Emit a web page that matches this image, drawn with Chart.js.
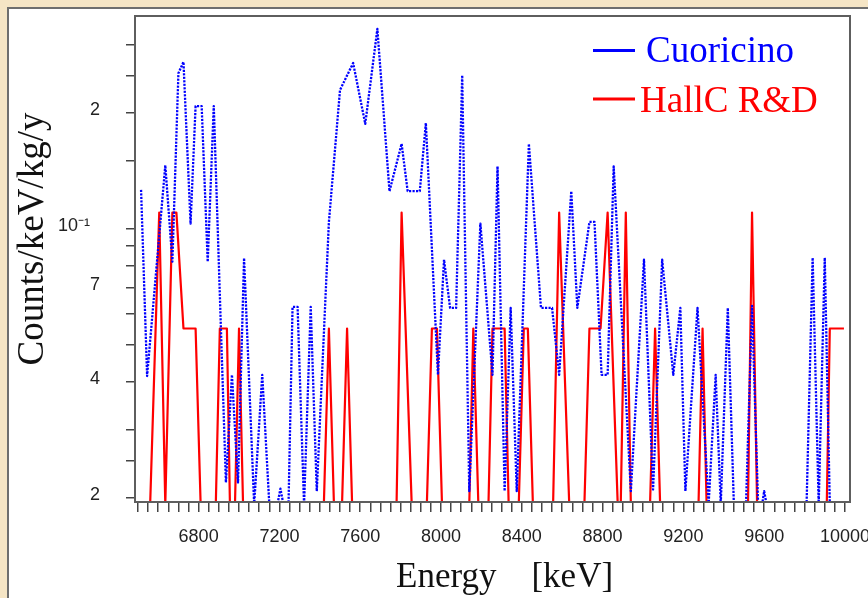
<!DOCTYPE html>
<html>
<head>
<meta charset="utf-8">
<script src="https://cdn.jsdelivr.net/npm/chart.js@4/dist/chart.umd.min.js"></script>
<style>
html,body{margin:0;padding:0;background:#f5e5c5;overflow:hidden}
canvas{display:block}
</style>
</head>
<body>
<canvas id="c" width="868" height="598"></canvas>
<script>
// ---------- data ----------
const seriesNames = ['Cuoricino', 'HallC R&D'];
const xTitle = 'Energy    [keV]';
const yTitle = 'Counts/keV/kg/y';

// Cuoricino (blue, dotted) vertices: energy [keV] and rate [counts/keV/kg/y]; 0 = empty bin
const cuoricinoEnergy = [6515,6545,6635,6670,6700,6725,6760,6785,6815,6845,
  6875,6935,6965,6995,7025,7075,7115,7150,7190,7205,
  7220,7245,7265,7290,7322,7355,7385,7445,7500,7565,
  7625,7685,7745,7805,7835,7895,7925,7985,8015,8045,
  8075,8105,8140,8195,8255,8280,8315,8345,8375,8435,
  8495,8550,8585,8645,8675,8735,8760,8795,8825,8855,
  8940,9005,9050,9095,9150,9185,9210,9270,9325,9360,
  9385,9420,9450,9510,9540,9570,9590,9600,9612,9810,
  9840,9870,9900,9925,10000];
const cuoricinoRate = [0.126,0.0414,0.146,0.082,0.253,0.271,0.103,0.208,0.208,0.082,
  0.208,0.0219,0.0417,0.0219,0.0838,0,0.0417,0,0,0.0211,
  0,0,0.0626,0.0626,0,0.0626,0.0208,0.104,0.229,0.269,
  0.187,0.33,0.125,0.166,0.125,0.125,0.188,0.0417,0.083,0.0622,
  0.0622,0.25,0.0208,0.103,0.0417,0.145,0.0208,0.0622,0.0208,0.166,
  0.0622,0.0622,0.0417,0.125,0.0622,0.104,0.104,0.0417,0.0417,0.145,
  0.0208,0.083,0.021,0.083,0.0417,0.0622,0.0208,0.0622,0,0.0417,
  0,0.0622,0,0,0.063,0,0,0.0208,0,0,
  0.084,0,0.084,0,0];

// HallC R&D (red, solid) vertices
const hallcEnergy = [6520,6560,6605,6635,6670,6690,6725,6785,6810,6885,
  6905,6940,6955,6980,7000,7020,7420,7445,7470,7510,
  7535,7560,7780,7805,7855,7930,7955,7980,8005,8140,
  8160,8185,8235,8255,8315,8335,8385,8410,8430,8455,
  8555,8585,8635,8710,8735,8790,8825,8875,8890,8915,
  8940,9035,9060,9085,9275,9295,9315,9520,9540,9565,
  9910,9925,9995];
const hallcRate = [0,0,0.11,0,0.11,0.11,0.055,0.055,0,0,
  0.055,0.055,0,0,0.055,0,0,0.055,0,0,
  0.055,0,0,0.11,0,0,0.055,0.055,0,0,
  0.055,0,0,0.055,0.055,0,0,0.055,0.055,0,
  0,0.11,0,0,0.055,0.055,0.11,0,0,0.11,
  0,0,0.055,0,0,0.055,0,0,0.11,0,
  0,0.055,0.055];

// axis ticks
const xTickLabels = ['6800','7200','7600','8000','8400','8800','9200','9600','10000'];
const xMinorStep = 50, xFirstTick = 6500, xLastTick = 10000;
const yTickValues = [0.02,0.025,0.03,0.04,0.05,0.06,0.07,0.08,0.09,0.1,0.15,0.2,0.25,0.3];
const yTickLabels = ['2','','','4','','','7','','','10\u207B\u00B9  ','','2','',''];

const X_MIN = 6485, X_MAX = 10025;
const Y_MIN = 0.01949, Y_MAX = 0.3564;
const EMPTY_BIN = 0.0192; // empty bins drawn just under the lower axis edge

// ---------- build ----------
const xTickValues = [];
for (let v = xFirstTick; v <= xLastTick; v += xMinorStep) xTickValues.push(v);
const toPoints = (E, R) => E.map((e, i) => ({ x: e, y: R[i] > 0 ? R[i] : EMPTY_BIN }));

const decor = {
  id: 'decor',
  beforeDraw(chart) {
    const ctx = chart.ctx;
    ctx.save();
    ctx.fillStyle = '#f5e5c5';
    ctx.fillRect(0, 0, chart.width, chart.height);
    ctx.fillStyle = '#ffffff';
    ctx.fillRect(8, 8, chart.width - 8, chart.height - 8);
    ctx.strokeStyle = '#6e6e6e';
    ctx.lineWidth = 2;
    ctx.beginPath();
    ctx.moveTo(8, chart.height); ctx.lineTo(8, 8); ctx.lineTo(chart.width, 8);
    ctx.stroke();
    ctx.restore();
  },
  afterDraw(chart) {
    const { ctx, chartArea: a } = chart;
    ctx.save();
    ctx.strokeStyle = '#5e5e5e';
    ctx.lineWidth = 2;
    ctx.strokeRect(a.left, a.top, a.right - a.left, a.bottom - a.top);
    ctx.fillStyle = '#111';
    ctx.textBaseline = 'alphabetic';
    ctx.textAlign = 'left';
    ctx.font = '35px "Liberation Serif", "Times New Roman", serif';
    ctx.fillText(xTitle, 396, 587);
    ctx.save();
    ctx.translate(43, 239);
    ctx.rotate(-Math.PI / 2);
    ctx.textAlign = 'center';
    ctx.font = '37px "Liberation Serif", "Times New Roman", serif';
    ctx.fillText(yTitle, 0, 0);
    ctx.restore();
    // legend
    const ly = [50.5, 99], tx = [646, 640], ty = [62, 112];
    chart.data.datasets.forEach((ds, i) => {
      ctx.strokeStyle = ds.borderColor;
      ctx.lineWidth = 3;
      ctx.setLineDash([]);
      ctx.beginPath();
      ctx.moveTo(593, ly[i]); ctx.lineTo(635, ly[i]);
      ctx.stroke();
      ctx.fillStyle = ds.borderColor;
      ctx.textAlign = 'left';
      ctx.font = '37px "Liberation Serif", "Times New Roman", serif';
      ctx.fillText(ds.label, tx[i], ty[i]);
    });
    ctx.restore();
  }
};

new Chart(document.getElementById('c'), {
  type: 'line',
  data: {
    datasets: [
      { label: seriesNames[0], data: toPoints(cuoricinoEnergy, cuoricinoRate),
        borderColor: '#0000ff', borderWidth: 2.3, borderDash: [2.2, 1.3], borderJoinStyle: 'round',
        pointRadius: 0, tension: 0, fill: false, order: 0, clip: 0 },
      { label: seriesNames[1], data: toPoints(hallcEnergy, hallcRate),
        borderColor: '#ff0000', borderWidth: 2.2, borderJoinStyle: 'round',
        pointRadius: 0, tension: 0, fill: false, order: 1, clip: 0 }
    ]
  },
  options: {
    responsive: false,
    animation: false,
    devicePixelRatio: 1,
    layout: { padding: { left: 0, top: 16, right: 18, bottom: 0 } },
    plugins: { legend: { display: false }, tooltip: { enabled: false } },
    scales: {
      x: {
        type: 'linear', min: X_MIN, max: X_MAX,
        afterBuildTicks: s => { s.ticks = xTickValues.map(v => ({ value: v })); },
        afterFit: s => { s.height = 96; s.paddingLeft = 0; s.paddingRight = 0; },
        ticks: {
          autoSkip: false, maxRotation: 0, minRotation: 0, padding: 14, color: '#222',
          font: { family: '"Liberation Sans", Arial, sans-serif', size: 18 },
          callback: v => xTickLabels.includes(String(v)) ? String(v) : ''
        },
        grid: { drawOnChartArea: false, drawTicks: true, tickLength: 10, color: '#444', lineWidth: 1.5 },
        border: { display: true, color: '#5e5e5e', width: 2 }
      },
      y: {
        type: 'logarithmic', min: Y_MIN, max: Y_MAX,
        afterBuildTicks: s => { s.ticks = yTickValues.map(v => ({ value: v })); },
        afterFit: s => { s.width = 135; s.paddingTop = 0; s.paddingBottom = 0; },
        ticks: {
          autoSkip: false, padding: 26, labelOffset: -3, color: '#222',
          font: { family: '"Liberation Sans", Arial, sans-serif', size: 18 },
          callback: v => {
            const i = yTickValues.findIndex(t => Math.abs(t - v) < 1e-9);
            return i >= 0 ? yTickLabels[i] : '';
          }
        },
        grid: { drawOnChartArea: false, drawTicks: true, tickLength: 9, color: '#444', lineWidth: 1.5 },
        border: { display: true, color: '#5e5e5e', width: 2 }
      }
    }
  },
  plugins: [decor]
});
</script>
</body>
</html>
